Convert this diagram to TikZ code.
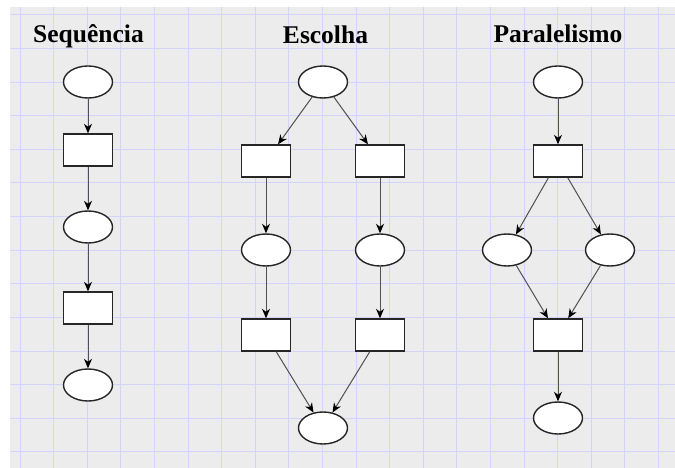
\documentclass[tikz,border=0pt]{standalone}
\usepackage{fontspec}
\setmainfont{Liberation Serif}
\usetikzlibrary{arrows.meta,shapes.geometric}
\definecolor{paper}{HTML}{ECECEC}
\definecolor{gridline}{HTML}{D4D4FA}
\definecolor{edgegray}{HTML}{505050}
\tikzset{
  place/.style={ellipse, draw=black!85, line width=1.4pt, fill=white,
    minimum width=49pt, minimum height=32pt, inner sep=0pt},
  trans/.style={rectangle, draw=black!85, line width=1.4pt, fill=white,
    minimum width=49pt, minimum height=32pt, inner sep=0pt},
  arc/.style={draw=edgegray, line width=1pt,
    -{Stealth[length=9.5pt,width=8pt,inset=3pt,color=black]}},
  heading/.style={font=\fontsize{25.5}{28}\selectfont\bfseries, anchor=base, inner sep=0pt}
}
\begin{document}
\begin{tikzpicture}[x=1pt,y=-1pt]
\useasboundingbox (0,0) rectangle (675,468);
% paper with grid
\fill[paper] (10,7) rectangle (675,468);
\foreach \k in {0,...,19} {
  \draw[gridline, line width=1pt] ({20+33.6*\k},7) -- ({20+33.6*\k},468);
}
\foreach \k in {0,...,13} {
  \draw[gridline, line width=1pt] (10,{15+33.6*\k}) -- (675,{15+33.6*\k});
}

% headings
\node[heading] (h1) at (88.5,43) {Sequência};
\node[heading] (h2) at (325.5,44) {Escolha};
\node[heading] (h3) at (558,43) {Paralelismo};

% sequence
\node[place] (s1) at (88,82) {};
\node[trans] (s2) at (88,150) {};
\node[place] (s3) at (88,227) {};
\node[trans] (s4) at (88,308) {};
\node[place] (s5) at (88,385) {};
\draw[arc] (s1) -- (s2);
\draw[arc] (s2) -- (s3);
\draw[arc] (s3) -- (s4);
\draw[arc] (s4) -- (s5);

% choice
\node[place] (e1) at (323,82) {};
\node[trans] (e2) at (266,161) {};
\node[trans] (e3) at (380,161) {};
\node[place] (e4) at (266,250) {};
\node[place] (e5) at (380,250) {};
\node[trans] (e6) at (266,335) {};
\node[trans] (e7) at (380,335) {};
\node[place] (e8) at (323,428) {};
\draw[arc] (e1) -- (e2);
\draw[arc] (e1) -- (e3);
\draw[arc] (e2) -- (e4);
\draw[arc] (e3) -- (e5);
\draw[arc] (e4) -- (e6);
\draw[arc] (e5) -- (e7);
\draw[arc] (e6) -- (e8);
\draw[arc] (e7) -- (e8);

% parallelism
\node[place] (p1) at (558,82) {};
\node[trans] (p2) at (558,161) {};
\node[place] (p3) at (507,250) {};
\node[place] (p4) at (610,250) {};
\node[trans] (p5) at (558,335) {};
\node[place] (p6) at (558,418) {};
\draw[arc] (p1) -- (p2);
\draw[arc] (p2) -- (p3);
\draw[arc] (p2) -- (p4);
\draw[arc] (p3) -- (p5);
\draw[arc] (p4) -- (p5);
\draw[arc] (p5) -- (p6);
\end{tikzpicture}
\end{document}
